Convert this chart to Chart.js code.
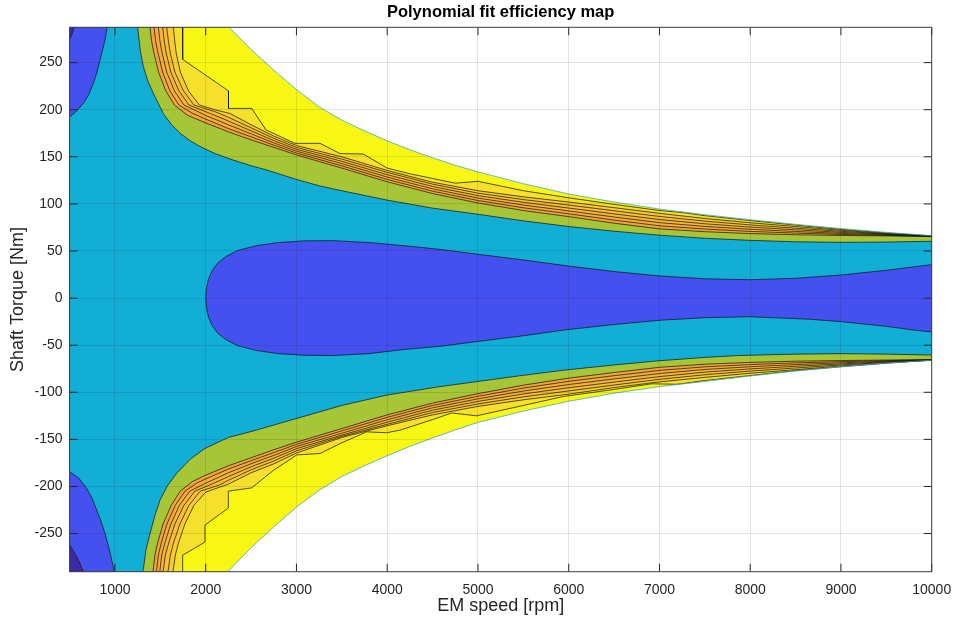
<!DOCTYPE html>
<html>
<head>
<meta charset="utf-8">
<script src="https://cdn.jsdelivr.net/npm/chart.js@4.4.1/dist/chart.umd.min.js"></script>
<style>
  html, body { margin: 0; padding: 0; background: #ffffff; }
  #map { display: block; }
</style>
</head>
<body>
<canvas id="map" width="955" height="621"></canvas>
<script>
// ---- axes ----
const speedRange = [500, 10000];
const torqueRange = [-290.5, 287.5];
const speedTicks = [1000, 2000, 3000, 4000, 5000, 6000, 7000, 8000, 9000, 10000];
const torqueTicks = [-250, -200, -150, -100, -50, 0, 50, 100, 150, 200, 250];

// ---- contour boundaries: [speed rpm, torque Nm] ----
// max torque envelope
const envelopeUpper = [[2222,291],[2500,264],[2750,242],[3000,221.5],[3250,203],[3500,189],[3750,177.5],[4000,167],[4250,157.5],[4500,149],[4750,141],[5000,134],[5500,121.5],[6000,110.5],[6500,102],[7000,94.5],[7500,88.5],[8000,83.2],[8500,78.3],[9000,73.8],[9500,69.8],[10000,66.3]];
const envelopeLower = [[2240,-291],[2500,-265],[2750,-243],[3000,-222],[3250,-204],[3500,-189.5],[3750,-178],[4000,-167.5],[4250,-157.5],[4500,-148.5],[4750,-140],[5000,-132],[5500,-120],[6000,-109.5],[6500,-101],[7000,-94],[7500,-88.5],[8000,-82.7],[8500,-77.5],[9000,-72.8],[9500,-69],[10000,-66]];

// level 1: cyan / green
const lvl1Upper = [[1245,291],[1250,287.5],[1280,262],[1312,246],[1360,231],[1422,217.5],[1533,196],[1620,184.5],[1717,175],[1830,167],[1937,161],[2100,153.5],[2304,146.5],[2500,140.5],[2672,136],[3000,126],[3260,119],[3500,114],[4000,104],[4500,95.5],[5000,89],[5500,82],[6000,76],[6500,71],[7000,66.8],[7500,63.5],[8000,61.3],[8500,59.8],[9000,59.2],[9500,59.5],[10000,60.3]];
const lvl1Lower = [[1303,-291],[1312,-288.5],[1340,-268],[1386,-250],[1440,-231],[1496,-214.5],[1580,-199],[1680,-186],[1830,-171],[1992,-159.6],[2250,-148],[2525,-141],[3003,-127.8],[3500,-114],[3995,-103],[4582,-94],[5000,-88.5],[5500,-82],[5944,-76.6],[6500,-71],[7000,-66.5],[7500,-63],[7874,-61],[8500,-59.5],[9000,-59],[9500,-59.5],[10000,-60.5]];

// level 2: green / orange
const lvl2Upper = [[1378,291],[1386,287.5],[1405,272],[1430,260],[1480,240],[1560,220],[1655,205],[1800,194],[2000,186],[2250,176.5],[2500,168],[2750,160],[3000,152],[3500,138],[4000,123.5],[4500,111],[5000,101],[5500,93],[6000,86.5],[6500,79.5],[7000,73.5],[7500,70.5],[8000,68.5],[8500,67.2],[9000,66.5],[9500,66],[10000,65.5]];
const lvl2Lower = [[1415,-291],[1422,-288.5],[1440,-273],[1470,-260],[1530,-240],[1620,-220],[1720,-205],[1850,-195],[2000,-188],[2250,-178],[2500,-169.5],[2750,-161],[3000,-153],[3500,-138.5],[4000,-124],[4500,-111.5],[5000,-101.5],[5500,-92.5],[6000,-85],[6500,-79],[7000,-73.5],[7500,-70.2],[8000,-68.3],[8500,-67],[9000,-66.3],[9500,-65.8],[10000,-65.3]];

// levels 3..7: orange bands
const lvl3Upper = [[1422,291],[1430,287.5],[1450,272],[1475,260],[1525,240],[1605,220],[1705,205],[1850,196.5],[2000,190],[2250,180],[2500,171.2],[2750,162.4],[3000,154],[3500,140.4],[4000,126],[4500,113.5],[5000,103.6],[5500,95.9],[6000,89.5],[6500,82.8],[7000,76.8],[7500,73.3],[8000,70.8],[8500,69],[9000,67.6],[9500,66.5],[10000,65.6]];
const lvl3Lower = [[1453,-291],[1460,-288.5],[1478,-273],[1510,-260],[1572,-240],[1665,-220],[1772,-205],[1900,-196.5],[2000,-192],[2250,-181.5],[2500,-172.7],[2750,-164],[3000,-155.3],[3500,-141],[4000,-126.6],[4500,-114],[5000,-104.3],[5500,-95.6],[6000,-88.4],[6500,-82.4],[7000,-76.8],[7500,-73],[8000,-70.6],[8500,-68.8],[9000,-67.5],[9500,-66.4],[10000,-65.5]];

const lvl4Upper = [[1470,291],[1478,287.5],[1497,272],[1520,260],[1570,240],[1655,220],[1760,205],[2000,194],[2250,184],[2500,174.4],[2750,164.8],[3000,156],[3500,142.8],[4000,128.5],[4500,116],[5000,106.2],[5500,98.8],[6000,92.5],[6500,86.1],[7000,80.1],[7500,76.1],[8000,73.1],[8500,70.7],[9000,68.7],[9500,67],[10000,65.7]];
const lvl4Lower = [[1489,-291],[1496,-288.5],[1515,-273],[1550,-260],[1615,-240],[1710,-220],[1825,-205],[2000,-196.5],[2250,-185.5],[2500,-175.9],[2750,-167],[3000,-157.6],[3500,-143.5],[4000,-129.2],[4500,-116.5],[5000,-107],[5500,-98.7],[6000,-91.8],[6500,-85.8],[7000,-80.1],[7500,-75.8],[8000,-72.9],[8500,-70.6],[9000,-68.7],[9500,-67],[10000,-65.6]];

const lvl5Upper = [[1518,291],[1526,287.5],[1544,272],[1565,260],[1615,240],[1705,220],[1815,205],[2050,196],[2250,188],[2500,177.6],[2750,167.2],[3000,158],[3500,145.2],[4000,131],[4500,118.5],[5000,108.8],[5500,101.7],[6000,95.6],[6500,89.4],[7000,83.4],[7500,78.9],[8000,75.4],[8500,72.5],[9000,69.8],[9500,67.5],[10000,65.8]];
const lvl5Lower = [[1526,-291],[1533,-288.5],[1555,-273],[1592,-260],[1660,-240],[1760,-220],[1880,-205],[2080,-197],[2250,-189.5],[2500,-179.1],[2750,-170],[3000,-159.9],[3500,-145.5],[4000,-131.8],[4500,-119],[5000,-109.7],[5500,-101.8],[6000,-95.2],[6500,-89.2],[7000,-83.4],[7500,-78.6],[8000,-75.2],[8500,-72.4],[9000,-69.9],[9500,-67.6],[10000,-65.7]];

const lvl6Upper = [[1562,291],[1570,287.5],[1590,272],[1610,260],[1660,240],[1755,220],[1870,205],[2100,198],[2250,192],[2500,180.8],[2750,169.6],[3000,160],[3500,147.6],[4000,133.5],[4500,121],[5000,111.4],[5500,104.6],[6000,98.8],[6500,92.7],[7000,86.7],[7500,81.7],[8000,77.7],[8500,74.2],[9000,70.9],[9500,68],[10000,65.9]];
const lvl6Lower = [[1581,-291],[1588,-288.5],[1610,-273],[1645,-260],[1715,-240],[1815,-220],[1940,-205],[2150,-198.5],[2250,-193.5],[2500,-182.3],[2750,-173],[3000,-162.2],[3500,-146.8],[4000,-134],[4500,-121.5],[5000,-112.4],[5500,-104.9],[6000,-98.6],[6500,-92.3],[7000,-86.3],[7500,-81.4],[8000,-77.5],[8500,-74.2],[9000,-71],[9500,-68.2],[10000,-65.8]];

const lvl7Upper = [[1636,291],[1643,287.5],[1660,272],[1675,260],[1720,240],[1810,220],[1930,205],[2100,200],[2268,196],[2500,184],[2750,172],[3000,162],[3500,150],[4000,135.5],[4500,123],[5000,114],[5500,107.5],[6000,102],[6500,96],[7000,90],[7500,84.5],[8000,80],[8500,76],[9000,72],[9500,68.5],[10000,66]];
const lvl7Lower = [[1636,-291],[1643,-288.5],[1665,-273],[1700,-260],[1770,-240],[1870,-220],[2000,-206],[2250,-197.5],[2500,-185.5],[2750,-176],[3000,-164.5],[3500,-148],[4000,-135.5],[4500,-124],[5000,-115],[5500,-108],[6000,-102],[6500,-95],[7000,-89],[7500,-84.2],[8000,-79.8],[8500,-76],[9000,-72.1],[9500,-68.8],[10000,-66]];

// level 8: light yellow / yellow (coarse grid edge)
const lvl8Upper = [[1746,291],[1746,253.5],[2251,220],[2251,201.4],[2507,201.4],[2664,178.6],[2984,164.3],[3260,164.3],[3480,153.4],[3737,152.9],[4000,138],[4250,132],[4500,127],[4750,122],[5000,124],[5500,114],[6000,106.5],[6500,99.5],[7000,93],[7250,90.8],[7500,87.5],[8000,82.3],[8500,77.5],[9000,73],[9500,69.2],[10000,66]];
const lvl8Lower = [[1746,-291],[1746,-273],[1992,-259],[1992,-241],[2249,-223],[2249,-205],[2507,-201.5],[2745,-183],[3003,-166.5],[3260,-165],[3480,-154.5],[3774,-142],[3994,-143],[4143,-140.2],[4500,-129],[4711,-122],[4986,-125],[5500,-114],[5941,-104.5],[6500,-97],[6915,-91],[7190,-91.5],[7500,-87.5],[7869,-83.6],[8500,-77],[9000,-73],[9500,-69.2],[10000,-66]];

// low-load island
const lobeUpper = [[2000,0],[2008,10],[2030,20],[2070,29],[2130,37],[2220,44],[2350,50.5],[2550,55.5],[2800,59],[3100,60.8],[3400,61],[3800,59],[4200,55.5],[4600,51.5],[5000,46.5],[5500,40.5],[6000,34],[6500,28.2],[7000,23.5],[7500,20.5],[8000,19.5],[8500,21],[9000,24.5],[9500,29.5],[10000,35.5]];
const lobeLower = [[2000,0],[2008,-10],[2030,-20],[2070,-29],[2130,-37],[2220,-44],[2350,-50.5],[2550,-55.5],[2800,-59],[3100,-60.8],[3400,-61],[3800,-59],[4143,-55],[4600,-51],[5000,-46],[5500,-40],[5944,-34],[6500,-28],[7011,-23.5],[7500,-20.8],[8000,-19.8],[8662,-22.5],[9000,-25],[9500,-30],[9804,-34],[10000,-36]];

// low-speed high-torque corners
const cornerUpper = [[500,192.5],[560,197],[651,206.7],[710,216],[761,228],[800,239],[835,252.7],[865,264],[890,274],[915,287.5],[918,291]];
const cornerLower = [[500,-184.5],[600,-191],[688,-202],[745,-212],[799,-225],[850,-238],[890,-250],[925,-262],[956,-274.7],[980,-285],[994,-291]];
const deepCornerUpper = [[500,274.5],[530,281.5],[562,291]];
const deepCornerLower = [[500,-262.3],[540,-268],[578,-274.7],[615,-282],[651,-290.6],[654,-291]];

// ---- drawing ----
const FONT = '"Liberation Sans", Arial, Helvetica, sans-serif';
const INK = '#262626';
const EDGE = 'rgba(20,20,20,0.9)';

const pts = arr => arr.map(([x, y]) => ({ x, y }));
const band = (upper, lower) => [
  { x: speedRange[0], y: upper[0][1] },
  ...pts(upper),
  ...pts(lower).reverse(),
  { x: speedRange[0], y: lower[0][1] }
];
const closed = (a, b) => [...pts(a), ...pts(b).reverse()];
const corner = arr => [...pts(arr), { x: speedRange[0], y: arr[arr.length - 1][1] }];

// filled regions, from outside to inside
const regions = [
  { data: band(envelopeUpper, envelopeLower), color: '#f8f714' },
  { data: band(lvl8Upper, lvl8Lower), color: '#f5e12c' },
  { data: band(lvl7Upper, lvl7Lower), color: '#f9cb32' },
  { data: band(lvl6Upper, lvl6Lower), color: '#f8bf35' },
  { data: band(lvl5Upper, lvl5Lower), color: '#f7b538' },
  { data: band(lvl4Upper, lvl4Lower), color: '#f5ac3a' },
  { data: band(lvl3Upper, lvl3Lower), color: '#f2a43c' },
  { data: band(lvl2Upper, lvl2Lower), color: '#a6c638' },
  { data: band(lvl1Upper, lvl1Lower), color: '#13aed5' },
  { data: closed(lobeUpper, lobeLower), color: '#4551ee' },
  { data: corner(cornerUpper), color: '#4551ee' },
  { data: corner(cornerLower), color: '#4551ee' },
  { data: corner(deepCornerUpper), color: '#3b2ca4' },
  { data: corner(deepCornerLower), color: '#3b2ca4' }
];

const edges = [
  { data: envelopeUpper, color: '#3fa9c4' }, { data: envelopeLower, color: '#3fa9c4' },
  { data: lvl8Upper }, { data: lvl8Lower },
  { data: lvl7Upper }, { data: lvl7Lower },
  { data: lvl6Upper }, { data: lvl6Lower },
  { data: lvl5Upper }, { data: lvl5Lower },
  { data: lvl4Upper }, { data: lvl4Lower },
  { data: lvl3Upper }, { data: lvl3Lower },
  { data: lvl2Upper }, { data: lvl2Lower },
  { data: lvl1Upper }, { data: lvl1Lower },
  { data: lobeUpper }, { data: lobeLower },
  { data: cornerUpper }, { data: cornerLower },
  { data: deepCornerUpper }, { data: deepCornerLower }
];

const datasets = [];
regions.forEach((r, i) => {
  datasets.push({
    data: r.data, showLine: true, fill: 'shape', tension: 0,
    backgroundColor: r.color, borderColor: 'transparent', borderWidth: 0,
    pointRadius: 0, order: 100 - i, clip: 0
  });
});
edges.forEach(e => {
  datasets.push({
    data: pts(e.data), showLine: true, fill: false, tension: 0,
    borderColor: e.color || EDGE, borderWidth: 0.8,
    pointRadius: 0, order: 0, clip: 0
  });
});

// axes box with inward tick marks on all four sides
const axesBox = {
  id: 'axesBox',
  afterDraw(chart) {
    const { ctx, chartArea: a, scales: { x, y } } = chart;
    const len = 8;
    ctx.save();
    ctx.strokeStyle = INK;
    ctx.lineWidth = 1;
    ctx.beginPath();
    speedTicks.forEach(v => {
      const px = x.getPixelForValue(v);
      ctx.moveTo(px, a.bottom); ctx.lineTo(px, a.bottom - len);
      ctx.moveTo(px, a.top); ctx.lineTo(px, a.top + len);
    });
    torqueTicks.forEach(v => {
      const py = y.getPixelForValue(v);
      ctx.moveTo(a.left, py); ctx.lineTo(a.left + len, py);
      ctx.moveTo(a.right, py); ctx.lineTo(a.right - len, py);
    });
    ctx.stroke();
    ctx.strokeStyle = '#3c3c3c';
    ctx.strokeRect(a.left, a.top, a.right - a.left, a.bottom - a.top);
    ctx.restore();
  }
};

new Chart(document.getElementById('map'), {
  type: 'scatter',
  data: { datasets },
  options: {
    responsive: false,
    animation: false,
    events: [],
    layout: { padding: { left: 0, right: 23.3, top: 0, bottom: 0 } },
    plugins: {
      legend: { display: false },
      tooltip: { enabled: false },
      title: {
        display: true,
        text: 'Polynomial fit efficiency map',
        color: '#000000',
        fullSize: false,
        font: { family: FONT, size: 16.5, weight: 'bold' },
        padding: { top: 3, bottom: 4.5 }
      }
    },
    scales: {
      x: {
        type: 'linear',
        min: speedRange[0], max: speedRange[1],
        afterFit: s => { s.height = 49.3; s.paddingLeft = 0; s.paddingRight = 0; },
        afterBuildTicks: s => { s.ticks = speedTicks.map(v => ({ value: v })); },
        ticks: { color: INK, font: { family: FONT, size: 14 }, padding: 10, maxRotation: 0, callback: v => String(v) },
        grid: { color: 'rgba(0,0,0,0.1)', lineWidth: 1, drawTicks: false, z: 1 },
        border: { display: false },
        title: { display: true, text: 'EM speed [rpm]', color: INK, font: { family: FONT, size: 18 }, padding: { top: 0, bottom: 4.2 } }
      },
      y: {
        type: 'linear',
        min: torqueRange[0], max: torqueRange[1],
        afterFit: s => { s.width = 69.6; },
        afterBuildTicks: s => { s.ticks = torqueTicks.map(v => ({ value: v })); },
        ticks: { color: INK, font: { family: FONT, size: 14 }, padding: 7, callback: v => String(v) },
        grid: { color: 'rgba(0,0,0,0.1)', lineWidth: 1, drawTicks: false, z: 1 },
        border: { display: false },
        title: { display: true, text: 'Shaft Torque [Nm]', color: INK, font: { family: FONT, size: 18 }, padding: { top: 7.7, bottom: 0 } }
      }
    }
  },
  plugins: [axesBox]
});
</script>
</body>
</html>
